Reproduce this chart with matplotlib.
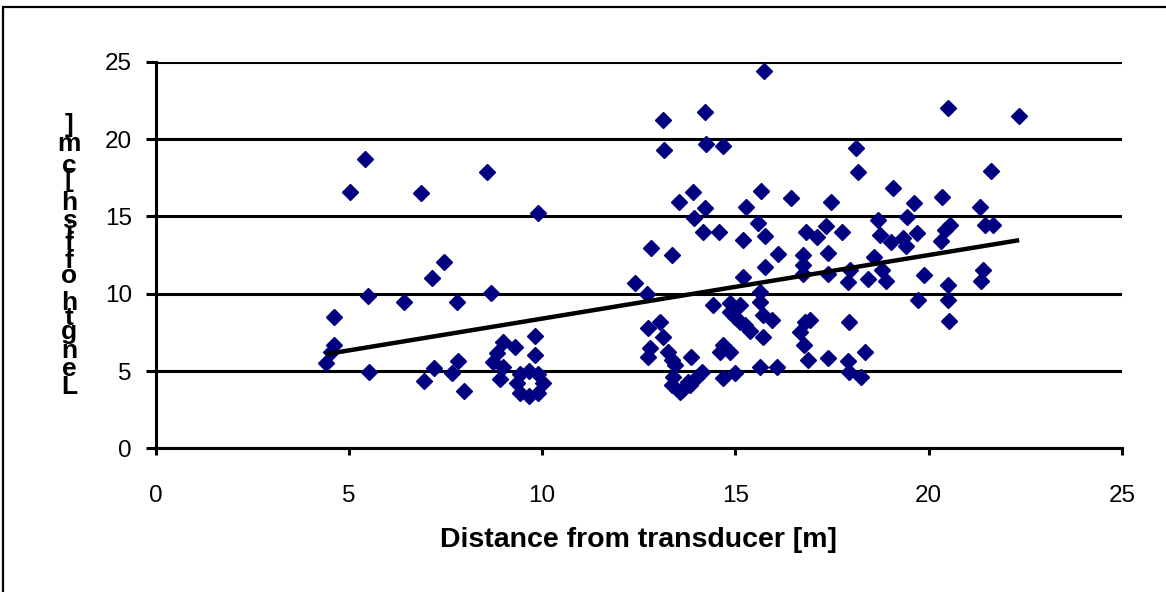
import numpy as np
import matplotlib
matplotlib.use("Agg")
import matplotlib.pyplot as plt
from matplotlib.patches import Rectangle
from matplotlib import font_manager
from matplotlib.ft2font import FT2Font

# ---------------- data ----------------
distance_m = [
    # near cluster
    4.41, 4.55, 4.62, 4.61, 5.03, 5.42, 5.49, 5.53, 6.42, 6.86, 6.95, 7.15,
    7.21, 7.45, 7.68, 7.79, 7.83, 7.98, 8.57, 8.67, 8.74, 8.83, 8.91, 9.00,
    9.30, 9.00, 9.82, 9.82, 9.89,
    9.67, 9.90, 10.02, 9.90, 9.67, 9.43, 9.34, 9.43,
    # middle cluster
    13.12, 14.21, 15.75, 13.16, 14.24, 14.67, 13.90, 13.53, 14.21, 13.93,
    14.17, 14.58, 15.65, 15.27, 16.44, 17.47, 15.59, 15.77, 15.19, 12.82,
    13.35, 16.11, 16.83, 17.10, 17.35, 16.74, 16.76, 16.75, 15.76, 17.40,
    17.40, 15.20, 12.40, 12.72, 15.64, 15.64, 14.43, 14.86, 15.12, 14.86,
    14.99, 15.12, 15.25, 15.38, 15.72, 15.94, 15.72,
    12.75, 13.05, 13.13, 12.79, 12.75, 13.26, 13.35, 13.44, 13.85, 13.39,
    13.35, 13.61, 13.78, 14.00, 14.13, 13.57, 13.83,
    14.69, 14.60, 14.86, 14.69, 14.99, 15.64, 16.07,
    16.80, 16.93, 16.67, 16.77, 16.89, 17.40,
    # far cluster
    20.49, 22.34, 18.11, 18.18, 21.61, 19.08, 19.62, 20.34, 21.33, 17.75,
    18.70, 18.74, 19.45, 19.02, 19.34, 19.41, 19.71, 20.55, 20.42, 20.31,
    21.45, 21.67, 18.58, 17.96, 17.92, 18.42, 18.78, 18.89, 19.89, 21.41,
    21.35, 20.49, 19.73, 20.49, 20.53, 17.94, 17.90, 18.35, 17.95, 18.24,
]
length_cm = [
    5.55, 6.25, 6.70, 8.47, 16.60, 18.70, 9.85, 4.92, 9.48, 16.50, 4.38, 11.03,
    5.18, 12.07, 4.85, 9.48, 5.67, 3.73, 17.90, 10.02, 5.60, 6.15, 4.47, 6.90,
    6.57, 5.28, 7.29, 6.04, 15.20,
    5.02, 4.81, 4.21, 3.60, 3.39, 3.60, 4.21, 4.81,
    21.25, 21.73, 24.42, 19.31, 19.66, 19.57, 16.60, 15.95, 15.56, 14.87,
    14.00, 14.00, 16.66, 15.60, 16.20, 15.95, 14.55, 13.75, 13.47, 12.93,
    12.50, 12.55, 14.00, 13.69, 14.40, 12.50, 11.86, 11.25, 11.75, 12.65,
    11.30, 11.10, 10.70, 10.00, 10.13, 9.48, 9.27, 9.38, 9.27, 8.79,
    8.51, 8.20, 7.98, 7.60, 8.62, 8.30, 7.22,
    7.76, 8.19, 7.22, 6.47, 5.93, 6.25, 5.71, 5.39, 5.89, 4.63,
    4.10, 3.78, 4.31, 4.63, 4.96, 3.67, 4.10,
    6.68, 6.25, 6.25, 4.53, 4.85, 5.28, 5.28,
    8.19, 8.30, 7.54, 6.68, 5.71, 5.82,
    22.02, 21.49, 19.40, 17.89, 17.93, 16.81, 15.84, 16.27, 15.62, 14.01,
    14.76, 13.79, 14.98, 13.32, 13.62, 13.10, 13.90, 14.44, 14.12, 13.41,
    14.44, 14.44, 12.39, 11.53, 10.78, 10.95, 11.53, 10.82, 11.21, 11.53,
    10.82, 10.56, 9.59, 9.59, 8.26, 8.15, 5.65, 6.21, 4.92, 4.60,
]

# linear trend line
trend_slope = 0.411
trend_intercept = 4.28

x_ticks = [0, 5, 10, 15, 20, 25]
y_ticks = [0, 5, 10, 15, 20, 25]
x_label = "Distance from transducer [m]"
y_label = "Length of fish [cm]"

# ---------------- figure ----------------
W, H, DPI = 1166, 592, 100
plt.rcParams["font.family"] = ["Liberation Sans", "DejaVu Sans"]
fig = plt.figure(figsize=(W / DPI, H / DPI), dpi=DPI)
fig.patch.set_facecolor("white")

# outer chart-area frame (left and top edges visible)
fig.patches.append(Rectangle((3 / W, -0.05), 1.2, 1 - 7 / H + 0.05,
                             transform=fig.transFigure, fill=False,
                             edgecolor="black", linewidth=1.6))

x0, x1 = 155.5, 1122.0
ytop, ybot = 61.7, 448.4
ax = fig.add_axes([x0 / W, 1 - ybot / H, (x1 - x0) / W, (ybot - ytop) / H])
ax.set_xlim(0, 25)
ax.set_ylim(0, 25)
ax.set_xticks(x_ticks)
ax.set_yticks(y_ticks)
for s in ("top", "right"):
    ax.spines[s].set_visible(False)
ax.spines["left"].set_linewidth(2.2)
ax.spines["bottom"].set_linewidth(2.2)
ax.yaxis.grid(True, color="black", linewidth=2.2)
ax.set_axisbelow(True)
ax.tick_params(axis="y", direction="out", length=7, width=2.2, pad=10,
               labelsize=17.5)
ax.tick_params(axis="x", direction="out", length=5, width=2.2, pad=21,
               labelsize=17.5)

ax.plot(distance_m, length_cm, linestyle="none", marker="D", markersize=8.5,
        markerfacecolor="#000080", markeredgecolor="#000080", zorder=3)

xs = np.array([min(distance_m), max(distance_m)])
ax.plot(xs, trend_slope * xs + trend_intercept, color="black",
        linewidth=3.2, solid_capstyle="butt", zorder=4)

ax.set_xlabel(x_label, fontsize=20.5, fontweight="bold", labelpad=15)

# y-axis label: glyphs stacked upright, placed by advance width, bottom to top
LAB_SIZE = 19
fp = font_manager.FontProperties(family="Liberation Sans", weight="bold")
font = FT2Font(font_manager.findfont(fp))
font.set_size(LAB_SIZE, DPI)
adv = []
for ch in y_label:
    g = font.load_char(ord(ch))
    adv.append(g.linearHoriAdvance / 65536.0)
total = sum(adv)
y_bottom_px, y_top_px = 396.0, 120.0
scale = (y_bottom_px - y_top_px) / total
pos = y_bottom_px
for ch, a in zip(y_label, adv):
    centre = pos - a * scale / 2
    if ch != " ":
        fig.text(69 / W, 1 - centre / H, ch, fontsize=LAB_SIZE,
                 fontweight="bold", ha="center", va="center")
    pos -= a * scale

fig.savefig("out.png", dpi=DPI, facecolor="white")
